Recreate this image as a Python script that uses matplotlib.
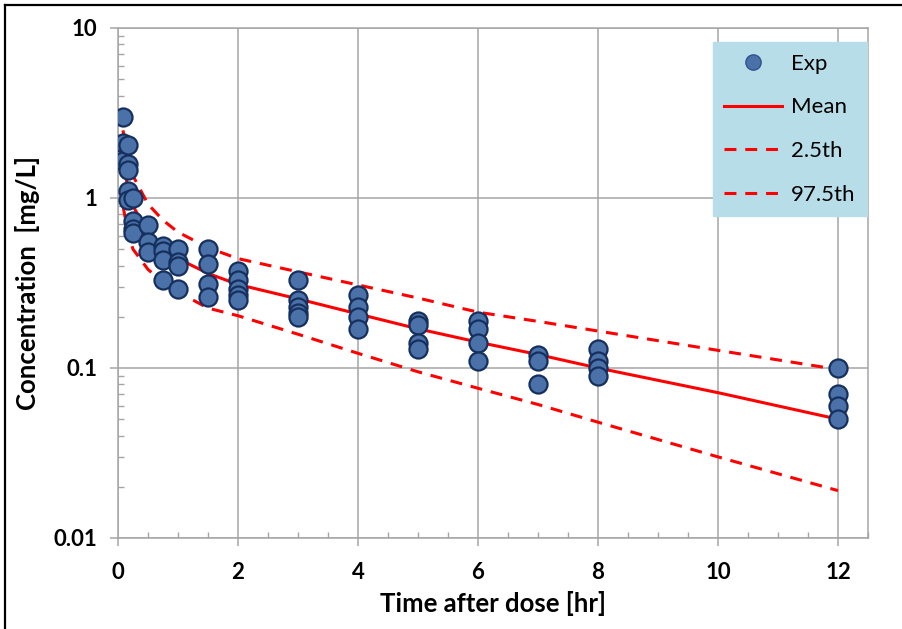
import matplotlib
matplotlib.use("Agg")
import matplotlib.pyplot as plt
from matplotlib.ticker import FixedLocator, LogLocator, NullFormatter, MultipleLocator
from matplotlib.lines import Line2D

# Observed concentrations (mg/L) at each sampling time (hr)
exp_times = [0.083, 0.167, 0.25, 0.5, 0.75, 1, 1.5, 2, 3, 4, 5, 6, 7, 8, 12]
exp_conc = [
    [3.0, 2.1, 1.65],
    [2.05, 1.58, 1.47, 1.1, 0.97],
    [1.0, 0.73, 0.66, 0.62],
    [0.69, 0.55, 0.48],
    [0.52, 0.49, 0.43, 0.33],
    [0.50, 0.42, 0.40, 0.29],
    [0.50, 0.41, 0.31, 0.26],
    [0.37, 0.33, 0.29, 0.27, 0.25],
    [0.33, 0.25, 0.23, 0.21, 0.20],
    [0.27, 0.23, 0.20, 0.17],
    [0.19, 0.18, 0.14, 0.13],
    [0.19, 0.17, 0.14, 0.11],
    [0.12, 0.11, 0.08],
    [0.13, 0.11, 0.10, 0.09],
    [0.10, 0.07, 0.06, 0.05],
]

# Simulated profile: mean and percentile bands
sim_times = [0.083, 0.167, 0.25, 0.5, 0.75, 1, 1.5, 2, 3, 4, 5, 6, 7, 8, 10, 12]
sim_mean = [1.6, 1.15, 0.9, 0.62, 0.5, 0.44, 0.36, 0.31, 0.255, 0.208, 0.17,
            0.142, 0.12, 0.1, 0.0716, 0.05]
sim_p025 = [0.9, 0.62, 0.5, 0.38, 0.32, 0.28, 0.225, 0.203, 0.158, 0.122, 0.095,
            0.076, 0.061, 0.048, 0.030, 0.019]
sim_p975 = [2.5, 1.75, 1.35, 0.92, 0.74, 0.63, 0.51, 0.44, 0.368, 0.308, 0.258,
            0.213, 0.188, 0.165, 0.127, 0.098]

x_ticks = [0, 2, 4, 6, 8, 10, 12]
y_ticks = [0.01, 0.1, 1, 10]
y_ticklabels = ["0.01", "0.1", "1", "10"]

FONT = ["Lato", "DejaVu Sans"]
plt.rcParams["font.family"] = FONT

fig = plt.figure(figsize=(9.02, 6.29), dpi=100)
ax = fig.add_axes([118 / 902, 1 - 538 / 629, 750 / 902, 510 / 629])

grid_c = "#A6A6A6"
red = "#FF0000"
dash = (3.9, 2.9)

ax.plot(sim_times, sim_mean, color=red, lw=2.2, zorder=3, solid_capstyle="butt")
ax.plot(sim_times, sim_p025, color=red, lw=2.2, dashes=dash, zorder=3)
ax.plot(sim_times, sim_p975, color=red, lw=2.2, dashes=dash, zorder=3)

xs, ys = [], []
for t, vals in zip(exp_times, exp_conc):
    for v in vals:
        xs.append(t)
        ys.append(v)
ax.plot(xs, ys, linestyle="none", marker="o", ms=13, mfc="#4A72A8",
        mec="#15305E", mew=1.6, zorder=4)

ax.set_yscale("log")
ax.set_xlim(0, 12.5)
ax.set_ylim(0.01, 10)

ax.xaxis.set_major_locator(FixedLocator(x_ticks))
ax.xaxis.set_minor_locator(MultipleLocator(0.5))
ax.yaxis.set_major_locator(FixedLocator(y_ticks))
ax.yaxis.set_minor_locator(LogLocator(base=10, subs=range(2, 10)))
ax.yaxis.set_minor_formatter(NullFormatter())
ax.set_yticklabels(y_ticklabels)

ax.grid(True, which="major", color=grid_c, lw=1.1, zorder=0)
for s in ax.spines.values():
    s.set_color(grid_c)
    s.set_linewidth(1.1)

ax.tick_params(which="major", direction="out", length=6, width=1.1, color=grid_c,
               labelsize=16, pad=9)
ax.tick_params(axis="x", which="major", pad=11)
ax.tick_params(which="minor", direction="in", length=4, width=1.0, color=grid_c)
for lab in ax.get_xticklabels() + ax.get_yticklabels():
    lab.set_fontweight("bold")
    lab.set_color("#000000")

ax.set_xlabel("Time after dose [hr]", fontsize=18.5, fontweight="bold", labelpad=6)
ax.set_ylabel("Concentration  [mg/L]", fontsize=18.5, fontweight="bold", labelpad=10)

handles = [
    Line2D([], [], linestyle="none", marker="o", ms=11, mfc="#4A72A8",
           mec="#2F528F", mew=1.0),
    Line2D([], [], color=red, lw=2.2),
    Line2D([], [], color=red, lw=2.2, dashes=dash),
    Line2D([], [], color=red, lw=2.2, dashes=dash),
]
leg = ax.legend(handles, ["Exp", "Mean", "2.5th", "97.5th"],
                loc="upper right", bbox_to_anchor=(749 / 750, 1 - 14 / 510),
                fontsize=16, frameon=True, fancybox=False, framealpha=1,
                facecolor="#B7DEE8", edgecolor="#B7DEE8", handlelength=2.6,
                handletextpad=0.4, labelspacing=1.07, borderpad=0.52,
                borderaxespad=0)
leg.set_zorder(5)

# Frame lines along the top and left edges of the canvas
fig.add_artist(Line2D([5 / 902, 1], [1 - 5 / 629, 1 - 5 / 629],
                      transform=fig.transFigure, color="black", lw=1.6))
fig.add_artist(Line2D([5 / 902, 5 / 902], [0, 1 - 5 / 629],
                      transform=fig.transFigure, color="black", lw=1.6))

fig.savefig("out.png", dpi=100, facecolor="white")
